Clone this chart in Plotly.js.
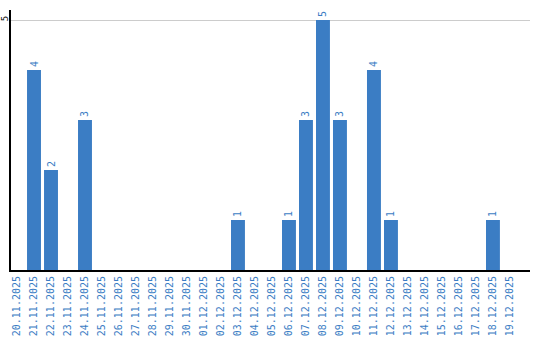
<!DOCTYPE html>
<html>
<head>
<meta charset="utf-8">
<script src="https://cdn.plot.ly/plotly-3.0.1.min.js"></script>
<style>html,body{margin:0;padding:0;background:#fff;}#chart{width:540px;height:340px;}</style>
</head>
<body>
<div id="chart"></div>
<script>
const dates = ["20.11.2025","21.11.2025","22.11.2025","23.11.2025","24.11.2025","25.11.2025","26.11.2025","27.11.2025","28.11.2025","29.11.2025","30.11.2025","01.12.2025","02.12.2025","03.12.2025","04.12.2025","05.12.2025","06.12.2025","07.12.2025","08.12.2025","09.12.2025","10.12.2025","11.12.2025","12.12.2025","13.12.2025","14.12.2025","15.12.2025","16.12.2025","17.12.2025","18.12.2025","19.12.2025"];
const counts = [0,4,2,0,3,0,0,0,0,0,0,0,0,1,0,0,1,3,5,3,0,4,1,0,0,0,0,0,1,0];
const yTicks = [5];

const blue = "#3b7dc4";
const labelText = counts.map(v => v > 0 ? String(v) : "");

const trace = {
  type: "bar",
  x: dates,
  y: counts,
  marker: {color: blue},
  text: labelText,
  textposition: "outside",
  textangle: -90,
  textfont: {family: "DejaVu Sans Mono", size: 10, color: blue},
  cliponaxis: false,
  hoverinfo: "none"
};

const layout = {
  width: 540, height: 340,
  margin: {l: 11, r: 10, t: 10, b: 70, pad: 0},
  paper_bgcolor: "#fff", plot_bgcolor: "#fff",
  showlegend: false,
  bargap: 0.18,
  xaxis: {
    type: "category",
    range: [-0.353, 30.18],
    tickangle: -90,
    tickfont: {family: "DejaVu Sans Mono", size: 10, color: blue},
    showline: true, linecolor: "#000", linewidth: 2,
    showgrid: false, ticks: "", automargin: false, fixedrange: true
  },
  yaxis: {
    range: [0, 5.2],
    tickvals: yTicks,
    ticktext: yTicks.map(String),
    tickangle: -90,
    ticklabelstandoff: -3,
    tickfont: {family: "DejaVu Sans Mono", size: 9, color: "#000"},
    showline: true, linecolor: "#000", linewidth: 2,
    showgrid: true, gridcolor: "#cccccc", gridwidth: 1,
    zeroline: false, ticks: "", automargin: false, fixedrange: true
  }
};

Plotly.newPlot("chart", [trace], layout, {displayModeBar: false, staticPlot: true});
</script>
</body>
</html>
